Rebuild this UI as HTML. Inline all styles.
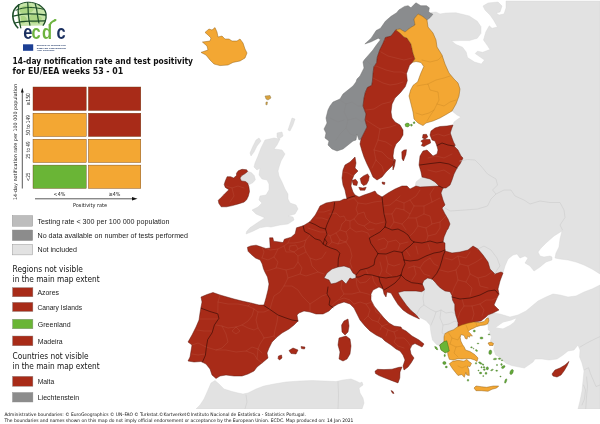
<!DOCTYPE html>
<html lang="en"><head><meta charset="utf-8"><title>14-day notification rate and test positivity for EU/EEA weeks 53 - 01</title>
<style>
html,body{margin:0;padding:0;background:#fff;}
body{width:600px;height:424px;overflow:hidden;}
svg{display:block;}
.t{font-family:"DejaVu Sans Condensed","DejaVu Sans","Liberation Sans",sans-serif;}
.a{font-family:"Liberation Sans",sans-serif;}
</style></head><body>
<svg width="600" height="424" viewBox="0 0 600 424">
<rect width="600" height="424" fill="#fff"/>
<g id="map" stroke-linejoin="round">
<polygon points="427,20 430,17.7 432.9,14.2 431,12.5 436,12 440,14 446,13 456,12.8 469.3,16 477.3,21.3 481,26.7 481,33.3 477.3,38.2 469.3,40.6 458.7,40.6 451.5,41 456,44.5 462.5,47.2 466.2,52 467.5,57.5 474.5,62 481.3,64 484.5,60 480.5,57.3 475.2,53.5 477.5,51.2 482.7,52.3 490,49.5 487.2,45.3 483.5,40 485.8,32 489.3,25.8 492,28.3 497.5,27 493.5,20 490,15 485,10 483,6 488,3 498,2 502,6 500,12 496,13 499,15 504,14 506,8 506,1 600,1 600,274 592,269 584,265 576,262 568,260 560,259 555,258 556,253 559,247 560,239 562,231 554,236 546,243 541,248 538,252 540,256 544,257 550,256 552,257 552,260 546,262 540,267 534,271 530,266 525,263 528,258 525,256 520,258 517,254 513,255 508,259 505,266 503,273 497,282 470,265 440,255 436,190 447,150 448,128 453,125 454,122 458,119 461,117 457,115 452,111 450,100 452,89 445,73 432,47 424,27" fill="#e2e2e2" stroke="#d4d4d4" stroke-width="0.4"/>
<polygon points="600,285 592,289 584,292 576,296 568,297 560,295 553,294 546,297 538,301 532,306 526,311 518,315 510,317 500,314 493,313 488,316 486,320 488,325 488.3,330 490.5,331.5 488.8,333 491.5,336.8 490.4,341.1 494.7,344.3 493.6,349.6 495.7,354.9 498.5,356.5 501,359.1 506.3,363.4 511.6,365.5 518,366.8 524.4,368 530.8,363.6 533,362 535,359 542,359 549,360 557,359 563,355 568,351 574,350 578,345 580,350 579.6,357 582,363 584,371 583,381 582,391 580,401 578,409 600,409" fill="#e2e2e2" stroke="#d4d4d4" stroke-width="0.4"/>
<polygon points="496,327.5 503,322.5 511,320.5 516,318.5 514,322 510,325 503,328.5" fill="#ffffff"/>
<polygon points="196,409 200,405 204,399 208,390 211,383 215,380.5 219,384 224,389 232,391.5 238,393 243,394 248,393 256,389 264,386 274,384 286,382 300,381 312,380.6 324,381 336,381.6 343,380 351,379 356,381 360,383 362,382 363,385 359,388 360,393 363,398 364,403 362,409" fill="#e2e2e2" stroke="#d4d4d4" stroke-width="0.4"/>
<polygon points="396,290 425,288 422,282 428,276 434,278 452,290 458,305 460,320 460,328 450,333 446,337 445,343 441,346 436.5,344.5 432.5,340 431,333 430,325 426,320.5 420,317.5 414,314 400,296" fill="#e2e2e2" stroke="#d4d4d4" stroke-width="0.4"/>
<polygon points="416,182 422,177 431,178 436,181 440,187 430,188 420,188.5 415,187" fill="#e2e2e2" stroke="#d4d4d4" stroke-width="0.4"/>
<polygon points="265,140 274,138 280,139 277,145 274,149 282,150 285,154 281,161 279,167 278,171 279,176 282,182 285,189 288,194 288,199 290,203 296,205 298,209 295,214 288,216 293,217 294,220 288,224 280,225 271,227 267.2,226.5 259.8,227.8 252.3,231.5 246.1,234 246.6,231.5 249.9,227.8 257.3,222.8 264.7,217.9 263,217 256,214 252,210 258,207 262,203 259,200 260,196 266,195 269,190 269,184 267,180 262,179 259,175 260,168 257,170 254,167 255,163 258,156 261,148" fill="#e2e2e2" stroke="#d4d4d4" stroke-width="0.4"/>
<polygon points="247.7,171.4 251.3,172.6 254.2,175.6 255.4,179.7 253,182.6 249.5,184.4 247.7,183.2 245.4,181.5 241.3,180.9 240,178 241.8,175.6 244.8,173.8" fill="#e2e2e2" stroke="#d4d4d4" stroke-width="0.4"/>
<polygon points="259,138 261,141 257,146 254,152 251,156 250,153 253,146 256,140" fill="#e2e2e2" stroke="#d4d4d4" stroke-width="0.4"/>
<polygon points="277,133 282,132 283,136 279,139 277,137" fill="#e2e2e2" stroke="#d4d4d4" stroke-width="0.4"/>
<polygon points="292,118 295,119 293,125 290,131 288,130 290,124" fill="#e2e2e2" stroke="#d4d4d4" stroke-width="0.4"/>
<polygon points="205,32.4 209,29 212,30 215,27.6 217,32 218,37 222,36 225,39 229,39 232,41 237,41 240,39 243,43 245,49 247,53 245,58 240,61 233,62.4 228,65 220,65.6 214,64 210,60 206,55 201,52.4 205,51 208,50 207,46 202.4,42 206,41.6 210,41 211,38 208,35" fill="#f3a733" stroke="#8a5a10" stroke-width="0.45"/>
<polygon points="265,96 270,95.5 271,98 268,100 266,99" fill="#d9a23c" stroke="#8a7a50" stroke-width="0.45"/>
<polygon points="266,102 267.5,102 267,105 265.8,104.5" fill="#d9a23c" stroke="#8a7a50" stroke-width="0.45"/>
<polygon points="238.3,170.8 242,169.3 246.6,169.7 247.7,171.4 244.8,173.8 241.8,175.6 240,178 241.3,180.9 245.4,181.5 247.7,183.2 248.9,186.8 249.5,191.5 248.3,196.2 246.6,199.7 244.2,202.1 238.3,203.9 232.4,205.6 226.5,206.8 221.2,206.8 218.8,203.3 218.3,200.3 221.2,197.4 223.6,195 226.5,192.1 228.9,189.7 225.3,187.4 224.2,184.4 225.3,180.9 227.1,176.7 230.6,176.7 233.6,177.9 236.5,175.6 236.5,173.2" fill="#a82b18" stroke="#5a1208" stroke-width="0.45"/>
<polygon points="325,138 329,141 328,145 332,149 337,151 343,149 348,145 353,141 356,140 357,134 359,140 361,139 364,133 367,127 365,120 366,114 363,106 364,98 365.3,92.4 367.4,87.5 371.7,85.3 372.4,81.1 373.1,72.6 373.8,66.9 376.6,62.7 377.3,57 379.8,49.8 383,43.3 385.4,37.5 391,36.1 395.3,30.5 396,29.5 400,29 405,32 410,28 415,25 414,19 418,14 422,16 427,20 430,17.7 432.9,14.2 428.6,12 429.3,7.8 426.5,5.7 420.8,5.7 415.9,2.8 410.9,7.8 408.1,5.7 404.5,6.4 398.9,9.9 396.7,12.7 391.1,16.3 385.4,21.2 380.5,28.3 376.2,30.5 371.2,38.2 364.9,43.9 371.2,41.8 378.3,38.2 380.5,39.7 376.2,45.3 372.7,50.3 368.4,55.2 364.2,60 363,62 364,68 360,76 357,79 356,82 353,86 348,90 343,94 340,99 333,102 330,106 328,110 326,118 327,123 324,129 326,133" fill="#8a8c8e" stroke="#6a6a6a" stroke-width="0.45"/>
<polygon points="361,139 364,133 367,127 365,120 366,114 363,106 364,98 365.3,92.4 367.4,87.5 371.7,85.3 372.4,81.1 373.1,72.6 373.8,66.9 376.6,62.7 377.3,57 379.8,49.8 383,43.3 385.4,37.5 391,36.1 395.3,30.5 396,29.5 400,33 404,37 407,38 411,44 413,53 415,59 412.5,62.3 409.5,65.3 406.5,73.6 407.3,80.7 405.3,86.6 400.6,92.5 395,98 392,104 391,112 392,118 395,122 400,125 403,130 403,135 400,140 396,144 394,149 393,156 394,162 393,165 390,168 386,172 382,177 377,180 373,177 370,170 367,164 364,157 362,151 360,144" fill="#a82b18" stroke="#5a1208" stroke-width="0.45"/>
<polygon points="401.8,151.7 404,150 406.5,149.7 405.9,154.4 403.4,161 402,158.4" fill="#a82b18" stroke="#5a1208" stroke-width="0.45"/>
<polygon points="394.5,159 395.5,160 394.5,166 393,170 392.8,166" fill="#a82b18" stroke="#5a1208" stroke-width="0.45"/>
<polygon points="396,30 400,29 405,32 410,28 415,25 414,19 418,14 422,16 427,20 428,27 433,33 436,40 437,47 442,55 445,64 449,73 454,79 458,83 460,89 459,96 456,104 452,111 447,114 440,118 433,121 426,123 423,125.6 418,123 414,119 413,112 411,104 409,96 410.6,90 413,85.4 417.7,81.8 420.7,73.6 423.8,66.5 421,62.5 416,61.5 412.5,62.3 415,59 413,53 411,44 407,38 404,37 400,33" fill="#f3a733" stroke="#8a5a10" stroke-width="0.45"/>
<polygon points="405,124.3 407,123 409,123.6 409.6,125.5 408,127 405.6,126.4" fill="#6ab536" stroke="#3a6a1a" stroke-width="0.45"/>
<polygon points="410.5,124.6 412,124.2 412.3,125.6 411,126.2" fill="#6ab536" stroke="#3a6a1a" stroke-width="0.45"/>
<polygon points="413.2,122.2 414.6,121.8 415,123.2 413.6,123.6" fill="#6ab536" stroke="#3a6a1a" stroke-width="0.45"/>
<polygon points="352,180.6 355.5,179.3 357.7,182 356.8,185.5 353.4,184.9" fill="#a82b18" stroke="#5a1208" stroke-width="0.45"/>
<polygon points="360.2,178.6 363.5,175.9 367.6,173.9 369.2,176.6 368.5,180.6 366.5,184.3 363.5,185.6 361.3,183.3" fill="#a82b18" stroke="#5a1208" stroke-width="0.45"/>
<polygon points="358.8,187.3 362.8,188 366.2,187.3 364.9,190.2 360.2,190.2" fill="#a82b18" stroke="#5a1208" stroke-width="0.45"/>
<polygon points="382,182 385,182.5 384.5,184.5 382.5,184" fill="#a82b18" stroke="#5a1208" stroke-width="0.45"/>
<polygon points="423,134.5 426.5,134.3 427.8,137 425,139 422.5,138" fill="#a82b18" stroke="#5a1208" stroke-width="0.45"/>
<polygon points="420.8,141 424,139.2 430,139.5 430.6,143 427,144.8 424,146.6 421.3,145.6 422.8,143" fill="#a82b18" stroke="#5a1208" stroke-width="0.45"/>
<polygon points="453,125 447,126 440,126.5 435,128 431,131 430,135 432,140 435,141 437,146 438,150 437,154 433,156 430,153 427,150 423,151 420,156 419,165 421,172 422,177 430,179 435,182 439,186 430,186.5 420,187 416,186 410,189 407,186 402,186 395,189 388,193 382,197 377,194 375,191 370,193 364,195 359,197 355,195 353,192 351,186 352,180 354,175 358,171 355,168 356,163 355,157 350,162 345,165 343,170 342,178 343,185 345,190 346,195 347,199 344,199 340,201 334,201.5 326,203 320,206 318,210 315.3,215 309.9,221.7 303.2,225.8 296.5,227.8 295.1,233.8 291.1,237.2 284.4,239.2 283,242.6 279,241.9 273.6,241.2 272.9,237.8 269.6,237.8 270.2,247.9 265.5,248.6 260.2,246.6 256.1,245.2 250.8,245.9 247.4,247.3 248.1,251.3 251.4,254.6 255.5,258 260.2,260 262.2,264 263.5,268.8 264.9,272 267.5,277 269,284 268,290 266,298 264,305 259,305 251,303 242,301 234,299 227,297 220,295 213,292.5 207,294.5 201,297 202,302 201,307 200,313 199,320 196,327 192,335 188,342 192,345 191,351 190,357 188,361 194,362 201,361.5 206,364 210,369 212,375 216,378.5 220,376 226,375 234,376 242,376 248,374 254,371 257,367 262,363 268,358 267,353 269,348 272,342 277,337 282,333 289,329 294,325 298,321 297,315 299,313 304,311 310,312 316,314 323,314 329,311 333,307 338,304 344,302 350,304 354,308 357,314 360,320 365,326 370,331 376,335 382,338 385,341 391,345 396,349 400,351 403,355 405,360 403,366 404,370 408,367 411,363 414,358 411,354 410,349 412,345 415,343.5 418,345 422,347 424,344 419,340 412,336 406,331 402,329 401,327 394,326 389,323 384,318 379,312 374,306 371,300 371,294 373,290 379,287 383,289 384,294 386,297 387,292 391,293 394.5,299 398,304.5 403,310 408,313.5 414,316.5 419.5,319 416.3,315 411,310.5 406.5,305.3 402.7,300 399.6,295.5 398,292.5 404,291 410,291 416,291 421.5,291.7 424.6,290 423.8,287 422.3,284 423.8,280.4 427.6,278 432,279 435,282 437.4,285 440.4,288 445,291 450,291.7 452,295.5 452.5,300 454.8,304.6 454.8,310 455.5,314.4 457,319 458,323 458,328 466,325 474,322 481,321 486,317 488,315 493,313 499,310 494,305 497,298 499,294 498,289 500,281 503,273 501,272 495,274 490,269 488,262 483,255 478,249 473,246 468,250 460,252 452,253 445,251 445,250 445,243 443,242 444,237 447,230 448,229 450,224 448,219 445,214 442,208 445,205 443,200 441,193 443,188 446,188 450,185 452,180 454,174 457,168 460,164 463,158 461,156 458,150 454,146 455.3,145.4 453.5,142 452,138 450.3,133 451.5,129" fill="#a82b18" stroke="#5a1208" stroke-width="0.45"/>
<polygon points="324,278 327,273 332,269 338,267 344,266 350,268 353,273 356,275 356,278 352,279 350,278 346,284 342,280 336,283 331,284 329,280" fill="#e2e2e2" stroke="#5a1208" stroke-width="0.45"/>
<polygon points="348,319 349,326 348,332 345,335 342,332 341.6,325 344,321" fill="#a82b18" stroke="#5a1208" stroke-width="0.45"/>
<polygon points="339,338 346,336 350,339 351,346 350,354 347,359 343,361 339,359 340,352 338,345" fill="#a82b18" stroke="#5a1208" stroke-width="0.45"/>
<polygon points="375,371.2 377.5,369.3 384,369.6 392,369.2 399,367.3 402,367 400,372 399.8,378 398,382.9 392,380.7 385,378 379,375.6 375.5,373.5" fill="#a82b18" stroke="#5a1208" stroke-width="0.45"/>
<polygon points="289,350.5 293,348 298,350 296,354 291,353.5" fill="#a82b18" stroke="#5a1208" stroke-width="0.45"/>
<polygon points="301,346.5 305,347 304.5,349 301.5,348.6" fill="#a82b18" stroke="#5a1208" stroke-width="0.45"/>
<polygon points="278.5,356 281.5,355 282,358 279.5,360 278,358.5" fill="#a82b18" stroke="#5a1208" stroke-width="0.45"/>
<polygon points="391,390.5 393,391.5 394,393.5 392.5,393.2" fill="#a82b18" stroke="#5a1208" stroke-width="0.45"/>
<polygon points="552,374 555,370 560,368 565,365 569,361.4 567,366 564,371 561,375 557,377 553,376" fill="#a82b18" stroke="#5a1208" stroke-width="0.45"/>
<polygon points="440,345 444,342 444,337 444.7,333.8 448.8,331.4 453.6,329.7 457.7,326.7 461.8,325 467.7,323.2 473.6,322 479.5,322.6 484.2,321.4 486.5,318.5 488.3,317.9 488.9,320.8 487.7,323.8 484.8,325 480.6,325.5 476.5,326.7 473,328.5 470,329.7 468.3,331.4 470.6,333.8 472.4,336.1 470,335.6 469.5,337.3 467.7,336.1 467.1,339.1 465.3,338.5 464.2,335.6 461,334.5 460.2,337.5 460.8,341 462.5,344.5 464.5,347.5 465.5,350 470,351.5 474.7,354.5 478,358 477,361.5 474.7,360 470.7,358.7 466.7,358.5 462,359 458,358.7 453.3,360 449.3,359.3 448,355.3 447.3,350 445.3,352.6 441.2,349.7" fill="#f3a733" stroke="#8a5a10" stroke-width="0.45"/>
<polygon points="439.6,345 444,341.6 446.8,340.8 448.2,346 449.3,351 445.3,353 441,350" fill="#6ab536" stroke="#3a6a1a" stroke-width="0.45"/>
<polygon points="449.3,363.7 452.7,361.3 458,360.3 464,361.2 466.7,359.3 469,361.5 471.5,363.3 470,366.5 467.5,366.3 469,370 469.3,375.5 466.8,375 465.8,372.5 464.3,377.3 461.8,374.5 458,375.5 455.5,372.5 452.5,368.7" fill="#f3a733" stroke="#8a5a10" stroke-width="0.45"/>
<polygon points="474,388 476,386 481.3,386.7 486.7,387.3 493.3,386 498.7,386 496.7,388 492,389.3 488,391.3 481.3,390.7 476,390.7" fill="#f3a733" stroke="#8a5a10" stroke-width="0.45"/>
<polygon points="488,343 491,342 493.5,343.5 493,345.5 489.5,345.5" fill="#f3a733" stroke="#8a5a10" stroke-width="0.45"/>
<polygon points="434.7,346.5 436.5,347 437.8,349.5 437,350 435.3,348.3" fill="#6ab536" stroke="#3a6a1a" stroke-width="0.45"/>
<g fill="none" stroke="#bd5c47" stroke-width="0.3" stroke-linecap="round" stroke-linejoin="round">
<polyline points="220,295 218,302 217.8,313.8"/>
<polyline points="218,302 228,304 238,304 248,306 254,309"/>
<polyline points="254,309 258,312 264,312 270,309.5"/>
<polyline points="248,306 251,303"/>
<polyline points="254,309 252,316 248,321 242,325 236,327 228,328 222,326 216,325"/>
<polyline points="236,327 240,331 236,334 232,331 236,327"/>
<polyline points="222,326 226,334 228,342 222,348 216,350 206,347"/>
<polyline points="216,350 226,350 236,352 246,351 254,354 257,359 262,363"/>
<polyline points="246,351 252,347 258,349 262,353"/>
<polyline points="258,349 257,359"/>
<polyline points="258,312 256,320 258,328 262,334 264,338"/>
<polyline points="278,315 277,322 275,330 274,336 276,338"/>
<polyline points="264,338 270,337 274,336"/>
<polyline points="264,338 260,344 258,349"/>
<polyline points="242,325 248,328 254,330 258,328"/>
<polyline points="200,319 208,319 218,319"/>
<polyline points="197,330 204,331 212,331"/>
<polyline points="192,345 198,343 206,347"/>
<polyline points="192,354 198,355 205,354"/>
<polyline points="262,247 264,252 262,258"/>
<polyline points="264,247.5 270,250 278,249 284,246 288,243 290,238.5"/>
<polyline points="288,243 294,243 300,242 306,240 310,235"/>
<polyline points="290,246 296,245 298,249 294,252 289,250 290,246"/>
<polyline points="262,258 268,260 274,257 278,249"/>
<polyline points="274,257 278,262 276,268 270,270 266,271"/>
<polyline points="284,246 286,252 294,252 298,256 298,262 294,268 286,270 278,268 276,268"/>
<polyline points="306,240 304,246 306,252 310,258 316,260 322,258 326,252"/>
<polyline points="298,249 304,246"/>
<polyline points="298,256 306,252"/>
<polyline points="310,258 312,266 318,272 324,274"/>
<polyline points="298,262 302,268 300,274 306,276 312,274 318,272"/>
<polyline points="286,270 288,278 284,286 280,292 274,296 272,302 270,309"/>
<polyline points="284,286 292,286 298,290 302,296 306,300 310,304 310,312"/>
<polyline points="300,274 294,276 288,278"/>
<polyline points="310,304 316,300 322,296 328,294"/>
<polyline points="342,281 341,288 344,294 340,298"/>
<polyline points="332,305 338,300 344,298 350,300 354,304"/>
<polyline points="356,278 357,286 360,292"/>
<polyline points="344,294 352,294 360,292 368,294 372,296"/>
<polyline points="356,278 360,283 366,282 370,278"/>
<polyline points="372,275 374,282 377,286"/>
<polyline points="354,304 360,302 366,304 372,302 374,306"/>
<polyline points="366,304 370,310 368,316 372,320"/>
<polyline points="374,306 376,312 381,315"/>
<polyline points="368,316 364,320"/>
<polyline points="372,320 378,322 382,326 380,330"/>
<polyline points="381,315 378,322"/>
<polyline points="382,326 388,324"/>
<polyline points="382,326 388,330 394,332 398,330"/>
<polyline points="388,330 386,336"/>
<polyline points="394,332 396,338 394,342 398,346"/>
<polyline points="396,338 404,338 408,342 411,347"/>
<polyline points="398,346 404,348"/>
<polyline points="348,200 354,198"/>
<polyline points="329,214 336,213 340,217 344,216 346,220 342,224"/>
<polyline points="354,198 358,203 356,209 358,214 354,219 350,221 346,220"/>
<polyline points="358,203 366,204 374,202 382,201"/>
<polyline points="358,214 364,212 366,218 370,222 376,224 384,222"/>
<polyline points="354,219 358,224 364,226 370,222"/>
<polyline points="350,221 350,228 356,232 362,231 368,233 370,237"/>
<polyline points="364,226 368,230 374,229"/>
<polyline points="342,224 340,230 336,233 330,236 327,234"/>
<polyline points="340,230 346,232 350,228"/>
<polyline points="336,233 340,240 346,242 348,238 346,232"/>
<polyline points="330,236 332,242 328,246"/>
<polyline points="332,242 338,244 340,240"/>
<polyline points="346,242 350,248 352,256 350,262 352,268"/>
<polyline points="338,244 346,242"/>
<polyline points="383,206 390,205 396,200 400,196"/>
<polyline points="396,200 404,203 410,200 416,196 420,190"/>
<polyline points="410,200 414,206 424,206 432,202 440,198"/>
<polyline points="432,202 430,194 434,188"/>
<polyline points="384,214 392,214 396,208 404,210 404,203"/>
<polyline points="404,210 410,214 414,206"/>
<polyline points="392,214 394,222 390,228"/>
<polyline points="394,222 402,224 406,230"/>
<polyline points="402,224 408,218 410,214"/>
<polyline points="408,218 416,218 424,214 424,206"/>
<polyline points="416,218 418,226 414,232 410,236"/>
<polyline points="418,226 426,228 432,224 430,216 424,214"/>
<polyline points="432,224 440,222 446,216"/>
<polyline points="426,228 428,236 426,242"/>
<polyline points="428,236 436,234 440,228 440,222"/>
<polyline points="378,240 384,238 388,242 386,248 380,250"/>
<polyline points="388,242 396,240 400,244 398,250"/>
<polyline points="400,244 408,242"/>
<polyline points="366,270 368,274"/>
<polyline points="380,262 382,270 379,277"/>
<polyline points="386,256 388,264 394,266 400,264"/>
<polyline points="388,264 386,272 392,276"/>
<polyline points="408,268 414,266 420,268 424,262 430,258"/>
<polyline points="414,266 416,274 412,280"/>
<polyline points="420,268 424,274 430,276"/>
<polyline points="430,258 434,264 438,266"/>
<polyline points="445,258 452,260 458,256 466,258 470,252"/>
<polyline points="458,256 460,264 456,270 448,272 440,270"/>
<polyline points="460,264 468,266 476,262 482,258"/>
<polyline points="468,266 470,274 478,278 486,276 492,272"/>
<polyline points="456,270 458,280 454,288 452,294"/>
<polyline points="458,280 466,282 472,288 470,296"/>
<polyline points="470,274 466,282"/>
<polyline points="478,278 480,286 488,288"/>
<polyline points="462,299 464,306 460,312 458,318"/>
<polyline points="464,306 472,306 480,304 486,300 492,300 497,298"/>
<polyline points="472,306 474,314 472,320"/>
<polyline points="480,304 484,310 482,316"/>
<polyline points="318,212 324,212 330,210"/>
<polyline points="316,218 322,218 328,220"/>
<polyline points="308,228 314,230 320,232 326,232"/>
<polyline points="343,172 348,173 353,176"/>
<polyline points="226,186 232,188 238,186 244,188"/>
<polyline points="232,188 234,196 230,202"/>
<polyline points="373,78 383,83 390,85 397,84 403,82"/>
<polyline points="366,110 374,109 382,104 390,102 395,98"/>
<polyline points="380,129 390,127 396,125"/>
<polyline points="380,129 378,140 374,150 376,160"/>
<polyline points="366,120 372,124 380,129"/>
<polyline points="378,140 386,142 392,146"/>
<polyline points="374,150 382,152 388,158 392,160"/>
<polyline points="376,160 372,168"/>
<polyline points="376,160 382,166 384,172"/>
<polyline points="381,52 388,56 396,58 404,60 412,58"/>
<polyline points="376,66 386,70 394,72 402,72 406,74"/>
<polyline points="432,136 438,134 444,136 450,134"/>
<polyline points="428,158 436,156 444,158 452,154"/>
<polyline points="428,170 436,172 444,170 450,174"/>
<polyline points="406,250 410,256"/>
<polyline points="416,246 418,254"/>
<polyline points="428,244 430,250"/>
</g>
<g fill="none" stroke="#b97a1e" stroke-width="0.3" stroke-linecap="round" stroke-linejoin="round">
<polyline points="417,86 422,85 428,84 430,90 438,92 439,100 437,104 434,110 430,116 427,121"/>
<polyline points="416,113 422,115 429,113 434,110"/>
<polyline points="437,104 444,106 450,102 456,100"/>
<polyline points="428,84 436,80 444,78 450,76"/>
<polyline points="422,60 430,62 438,60 442,56"/>
<polyline points="448,332 452,338 450,344"/>
<polyline points="452,338 458,340 460,336"/>
<polyline points="450,344 456,347 462,346"/>
<polyline points="456,347 454,353 458,357"/>
<polyline points="466,325 468,330"/>
<polyline points="476,323 477,326"/>
<polyline points="458,366 462,368 466,366"/>
</g>
<g fill="none" stroke="#848484" stroke-width="0.3" stroke-linecap="round" stroke-linejoin="round">
<polyline points="340,100 346,104 352,102 358,106 363,106"/>
<polyline points="346,104 344,112 348,120 346,128 350,134 356,136"/>
<polyline points="348,120 356,118 362,122 365,120"/>
<polyline points="330,118 338,122 344,120"/>
<polyline points="336,140 340,134 346,128"/>
<polyline points="375,66 370,64 366,60"/>
<polyline points="385,40 380,38 377,34"/>
</g>
<g fill="none" stroke="#3f0d06" stroke-width="0.7" stroke-linecap="round">
<polyline points="201.3,308.3 209.9,311.5 217.8,313.8 218.9,318.3 214.4,325 212.1,332.8 207.7,339.6 206.5,346.3 205.4,355.3 202.6,361.8"/>
<polyline points="264,305.6 270,309.5 278,315 286,318 292,320 298,321"/>
<polyline points="328,287 327,294 330,299 329,305 333,307.5"/>
<polyline points="303.2,225.8 304.4,231.3 309.6,234.3 315,238.8 320.2,240.3 323.2,244"/>
<polyline points="323.2,244 324.7,238.8 327,242.6 325.5,245.6 323.2,244"/>
<polyline points="325.5,245.6 330.8,248 336.8,250 339.8,253.2 338.3,259 338,266.5"/>
<polyline points="309.5,222.3 315,224.5 320.2,227.5 325.5,229"/>
<polyline points="334.6,202.6 333.8,208.6 331.5,214.6 329.3,219.2 327,224.5 325.5,229"/>
<polyline points="325.5,229 327,234.3 324.7,238.8"/>
<polyline points="347,198.5 351,197 355,196"/>
<polyline points="382,197 383,206 384,214 386,222 385,227"/>
<polyline points="385,227 380,232 374.6,235 369.3,238 370.8,243.3 374.6,248.6 378,253.6"/>
<polyline points="378,253.6 375,259 374,265 368,268 360,270 356,275"/>
<polyline points="385,227 392,230 398,229 404,232 408,235 411,240 414,242"/>
<polyline points="378,253.6 386,254 394,251 402,252.4"/>
<polyline points="414,242 410,246 406,249 402,252.4"/>
<polyline points="414,242 422,243 430,241 437,243 443,242"/>
<polyline points="402,252.4 404,260"/>
<polyline points="404,260 410,261 418,260 426,256 434,253 440,252 445,250"/>
<polyline points="404,260 405,263.8 402.7,269 401,275"/>
<polyline points="379,277 386,278 389,277.4 396.6,276.6 401,275"/>
<polyline points="356,277 359,277 365,274.4 372,275 379,277"/>
<polyline points="379,277 380,282 382,286 383,289"/>
<polyline points="384,290 389,287 395,283 399.6,278 401,275"/>
<polyline points="401,275 405.7,279.6 411.7,282.7 417.8,283.4 422.3,284.2"/>
<polyline points="432,279 436.6,273.6 439.7,267.6 442,260 443,256 445,251"/>
<polyline points="452,297 460,299 470,298 480,295 488,291 495,290 498.5,294"/>
<polyline points="437,145.5 442,143 448,145 454,146"/>
<polyline points="420,165 430,163.6 440,162.4 449,164 457,168"/>
<polyline points="439,186 443,188"/>
</g>
<g fill="none" stroke="#cacaca" stroke-width="0.55" stroke-linecap="round">
<polyline points="460,161 467.5,159.5 475,160 481,166 487.5,174 496,179 497.5,185 492.5,190 496,194 491,199 487.5,206 477.5,209 465,210 450,211 445,208"/>
<polyline points="496,194 504,190 511,190 515,196 524,200 530,204 540,201 550,202.5 560,202.5 564,210 565,217.5 560,225 562.5,230"/>
<polyline points="478,249 484,246 491,250 497,258 500,266 497,270 495,274"/>
<polyline points="246,395 247,402 245,409"/>
<polyline points="338,382 338.5,395 338,409"/>
<polyline points="580,347 586.6,343.2 594,339.4 600,336.6"/>
<polyline points="584.7,369.6 588.5,367.7 590.4,373.4 596,386.6 600,385"/>
<polyline points="586.6,377 587.5,386.6 586.6,396 585.7,409"/>
<polyline points="583.5,385 585.5,390 584.5,399 582,405"/>
<polyline points="416.3,315 420,308 424,305 423,298 424.6,290"/>
<polyline points="424,305 430,309 436,312 441,310 446,313 452,312 455,314"/>
<polyline points="436,312 434,318 431,325"/>
<polyline points="441,310 440,318 443,325 442,333 445,335"/>
<polyline points="443,325 449,324 455,321 458,323"/>
</g>
<g fill="#63a83a" stroke="#3a6a1a" stroke-width="0.3">
<ellipse cx="444.4" cy="363" rx="1.7" ry="1.5" transform="rotate(20 444.4 363)"/>
<ellipse cx="446.3" cy="367" rx="1.1" ry="0.9" transform="rotate(0 446.3 367)"/>
<ellipse cx="444.7" cy="355.5" rx="0.7" ry="1.2" transform="rotate(0 444.7 355.5)"/>
<ellipse cx="468" cy="380.3" rx="0.8" ry="1" transform="rotate(0 468 380.3)"/>
<ellipse cx="471.5" cy="347.3" rx="0.9" ry="0.6" transform="rotate(0 471.5 347.3)"/>
<ellipse cx="476.5" cy="350.5" rx="1.2" ry="0.8" transform="rotate(40 476.5 350.5)"/>
<ellipse cx="473.5" cy="348.6" rx="0.6" ry="0.4" transform="rotate(0 473.5 348.6)"/>
<ellipse cx="480.2" cy="363" rx="1.8" ry="0.8" transform="rotate(30 480.2 363)"/>
<ellipse cx="483" cy="364.6" rx="1" ry="0.6" transform="rotate(30 483 364.6)"/>
<ellipse cx="476" cy="363.3" rx="0.7" ry="0.9" transform="rotate(0 476 363.3)"/>
<ellipse cx="484" cy="367.3" rx="1.0" ry="0.7" transform="rotate(0 484 367.3)"/>
<ellipse cx="481.5" cy="367.3" rx="0.7" ry="0.7" transform="rotate(0 481.5 367.3)"/>
<ellipse cx="487.3" cy="368.3" rx="1.2" ry="1.6" transform="rotate(0 487.3 368.3)"/>
<ellipse cx="484.3" cy="369.6" rx="1.0" ry="0.9" transform="rotate(0 484.3 369.6)"/>
<ellipse cx="480.6" cy="373" rx="1.3" ry="0.9" transform="rotate(0 480.6 373)"/>
<ellipse cx="486" cy="373.3" rx="1" ry="1.1" transform="rotate(0 486 373.3)"/>
<ellipse cx="483.3" cy="376" rx="0.7" ry="0.5" transform="rotate(0 483.3 376)"/>
<ellipse cx="492" cy="370" rx="1.4" ry="0.6" transform="rotate(-25 492 370)"/>
<ellipse cx="495" cy="359" rx="1.7" ry="0.8" transform="rotate(-10 495 359)"/>
<ellipse cx="499.5" cy="358.7" rx="1.3" ry="0.7" transform="rotate(0 499.5 358.7)"/>
<ellipse cx="502" cy="360.3" rx="0.7" ry="0.6" transform="rotate(0 502 360.3)"/>
<ellipse cx="478.5" cy="370.5" rx="0.6" ry="0.6" transform="rotate(0 478.5 370.5)"/>
<ellipse cx="503.3" cy="367" rx="2" ry="1.2" transform="rotate(-35 503.3 367)"/>
<ellipse cx="501.5" cy="364.5" rx="0.8" ry="1" transform="rotate(0 501.5 364.5)"/>
<ellipse cx="496.7" cy="370.7" rx="1" ry="0.6" transform="rotate(0 496.7 370.7)"/>
<ellipse cx="511.6" cy="372" rx="1.5" ry="2.7" transform="rotate(25 511.6 372)"/>
<ellipse cx="505.7" cy="381" rx="0.9" ry="2.3" transform="rotate(20 505.7 381)"/>
<ellipse cx="490.3" cy="352.3" rx="1.5" ry="2.3" transform="rotate(10 490.3 352.3)"/>
<ellipse cx="474.3" cy="331" rx="1.1" ry="1" transform="rotate(0 474.3 331)"/>
<ellipse cx="481.5" cy="338" rx="1.6" ry="1.1" transform="rotate(0 481.5 338)"/>
<ellipse cx="478" cy="343.5" rx="0.8" ry="0.6" transform="rotate(0 478 343.5)"/>
<ellipse cx="489" cy="334.5" rx="0.8" ry="0.6" transform="rotate(0 489 334.5)"/>
<ellipse cx="500.5" cy="376.5" rx="0.7" ry="0.5" transform="rotate(0 500.5 376.5)"/>
<ellipse cx="497" cy="365" rx="0.6" ry="0.8" transform="rotate(0 497 365)"/>
</g>
</g>
<rect x="0" y="409" width="600" height="15" fill="#fff"/>
<g id="logo">
 <defs><clipPath id="dclip"><rect x="38" y="28.6" width="12" height="12"/></clipPath></defs>
 <path d="M18.7,5 C22,2.6 26,2 28.5,2.2 C33,2.4 36.5,3.4 39,5 C43,7.8 45.8,11 46.2,14.5 C46.5,18 45.5,22 43,25.5 L20,26 C17,21 16.5,11 18.7,5Z" fill="#c6e4a8"/>
 <path d="M20,8 C24,5 30,5 33,7 C35,9 33,12 29,13 C25,14 22,13 20,12Z M31,15 C35,14 40,15 42,18 C41,22 36,24 32,23 C29,21 29,17 31,15Z M21,16 C24,15 27,17 27,20 C26,23 23,24 21,23Z" fill="#acd684"/>
 <g fill="none" stroke="#1f4f2a" stroke-linecap="round">
  <path d="M18.7,4.8 C14.5,8 12.5,12 12.8,16.5 C13.2,21 15,25 17.8,27.8" stroke-width="1.6"/>
  <path d="M18.7,4.8 C22,2.8 25.5,2.2 28.3,2.2 C32.5,2.3 36,3.2 38.9,4.8" stroke-width="1"/>
  <path d="M38.9,4.8 C43,7.5 45.6,10.5 46,13.5 C46.4,17 45.8,20 45.2,21.5 C44.7,23 44,24.2 43.2,25.2" stroke-width="1.3"/>
  <path d="M13.3,16.2 C20,14.3 26,13.8 29.3,13.8 C35,13.8 41,14.2 45.6,15" stroke-width="1.3"/>
  <path d="M14.4,23 C20,21.8 26,21.3 29.3,21.2 C35,21 40,20.8 44.9,20.8" stroke-width="1.2"/>
  <path d="M16,10.2 C20,8.3 26,7.5 29.3,7.5 C34,7.5 39,8 43.2,9.2" stroke-width="1"/>
  <path d="M18.7,5.3 C18,9 18,13 18.7,16 C19.2,20 19.8,24 20.8,27.8" stroke-width="1.2"/>
  <path d="M27.7,2.6 C28,6 28.2,10 28.3,13.9 C28.6,18 29.2,22 29.9,25.2" stroke-width="1.2"/>
  <path d="M35.2,3.7 C36.3,7 37,10.5 37.3,13.9 C37.7,17 38.3,20 38.9,23" stroke-width="1.2"/>
 </g>
 <rect x="22.5" y="26.2" width="45" height="14" fill="#fff"/>
 <path d="M50,27 C49.6,24.8 50.4,23 52,22 C53,21.4 54,20.9 54.8,20.3" fill="none" stroke="#6db33f" stroke-width="1.9" stroke-linecap="round"/>
 <ellipse cx="55" cy="20.2" rx="1.6" ry="1.1" transform="rotate(-25 55 20.2)" fill="#6db33f"/>
 <text class="a" font-size="19.3" font-weight="bold" transform="translate(0,38.8) scale(0.85,1)" y="0"><tspan x="27.5" fill="#1a2f5f">e</tspan><tspan x="37.2" fill="#6db33f">c</tspan><tspan x="49.4" fill="#6db33f">d</tspan><tspan x="66.4" fill="#1a2f5f">c</tspan></text>
 <rect x="23" y="44.3" width="10.2" height="6.5" fill="#1c3f94"/>
 <g class="a" font-size="2.1" font-weight="bold" fill="#1b3566">
  <text x="36.8" y="46.3" textLength="29" lengthAdjust="spacingAndGlyphs">EUROPEAN CENTRE FOR</text>
  <text x="36.8" y="48.5" textLength="29" lengthAdjust="spacingAndGlyphs">DISEASE PREVENTION</text>
  <text x="36.8" y="50.7" textLength="18" lengthAdjust="spacingAndGlyphs">AND CONTROL</text>
 </g>
</g>
<g class="t" font-weight="bold" font-size="8.2" fill="#111">
 <text x="12.5" y="63.7" textLength="180.5" lengthAdjust="spacingAndGlyphs">14-day notification rate and test positivity</text>
 <text x="12.5" y="74.2" textLength="110.8" lengthAdjust="spacingAndGlyphs">for EU/EEA weeks 53 - 01</text>
</g>
<g id="matrix" stroke="#6b3a10" stroke-width="0.4">
 <rect x="33" y="87" width="53.2" height="23.5" fill="#a82b18"/>
 <rect x="88.4" y="87" width="52.4" height="23.5" fill="#a82b18"/>
 <rect x="33" y="113.2" width="53.2" height="23.3" fill="#f3a733"/>
 <rect x="88.4" y="113.2" width="52.4" height="23.3" fill="#a82b18"/>
 <rect x="33" y="139.2" width="53.2" height="23.3" fill="#f3a733"/>
 <rect x="88.4" y="139.2" width="52.4" height="23.3" fill="#f3a733"/>
 <rect x="33" y="165.1" width="53.2" height="23.3" fill="#6ab536"/>
 <rect x="88.4" y="165.1" width="52.4" height="23.3" fill="#f3a733"/>
</g>
<g stroke="#111" stroke-width="0.7" fill="#111">
 <line x1="22.3" y1="188.5" x2="22.3" y2="91.5"/>
 <polygon points="22.3,87.8 20.9,92.5 23.7,92.5" stroke="none"/>
 <line x1="35" y1="198.8" x2="133" y2="198.8"/>
 <polygon points="137.5,198.8 132,197 132,200.6" stroke="none"/>
</g>
<g class="t" fill="#222">
 <text font-size="4.8" transform="translate(17.4,200) rotate(-90)" textLength="116" lengthAdjust="spacingAndGlyphs">14-day notification rate per 100 000 population</text>
 <g font-size="5.6">
 <text transform="translate(30,181.3) rotate(-90)" textLength="8.8" lengthAdjust="spacingAndGlyphs">&lt;25</text>
 <text transform="translate(30,158.8) rotate(-90)" textLength="17.5" lengthAdjust="spacingAndGlyphs">25 to 49</text>
 <text transform="translate(30,135.5) rotate(-90)" textLength="20.5" lengthAdjust="spacingAndGlyphs">50 to 149</text>
 <text transform="translate(30,105.5) rotate(-90)" textLength="12.5" lengthAdjust="spacingAndGlyphs">≥150</text>
 </g>
 <g font-size="5.4">
 <text x="53.6" y="195.8" textLength="11.8" lengthAdjust="spacingAndGlyphs">&lt;4%</text>
 <text x="108.7" y="195.8" textLength="11.8" lengthAdjust="spacingAndGlyphs">≥4%</text>
 <text x="73" y="207.3" textLength="34" lengthAdjust="spacingAndGlyphs">Positivity rate</text>
 </g>
</g>
<g id="legendboxes" stroke="#8a8a8a" stroke-width="0.4">
 <rect x="12.3" y="215.6" width="20.4" height="10.6" fill="#bdbdbd"/>
 <rect x="12.3" y="230" width="20.4" height="10.6" fill="#8c8c8c"/>
 <rect x="12.3" y="244.3" width="20.4" height="10.6" fill="#e2e2e2"/>
 <rect x="12.5" y="287.6" width="20.4" height="9.2" fill="#a82b18"/>
 <rect x="12.5" y="302.3" width="20.4" height="9.2" fill="#a82b18"/>
 <rect x="12.5" y="319.2" width="20.4" height="9.6" fill="#6ab536"/>
 <rect x="12.5" y="336" width="20.4" height="9.8" fill="#a82b18"/>
 <rect x="12.5" y="376.3" width="20.4" height="10" fill="#a82b18"/>
 <rect x="12.5" y="392.5" width="20.4" height="9.5" fill="#8c8c8c"/>
</g>
<g class="a" font-size="7" fill="#222">
 <text x="37.5" y="223.5" textLength="132" lengthAdjust="spacingAndGlyphs">Testing rate &lt; 300 per 100 000 population</text>
 <text x="37.5" y="238" textLength="150.5" lengthAdjust="spacingAndGlyphs">No data available on number of tests performed</text>
 <text x="37.5" y="252.2" textLength="39.5" lengthAdjust="spacingAndGlyphs">Not included</text>
 <text x="37.4" y="295" textLength="21.6" lengthAdjust="spacingAndGlyphs">Azores</text>
 <text x="37.4" y="309.5" textLength="44.6" lengthAdjust="spacingAndGlyphs">Canary Islands</text>
 <text x="37.7" y="326.5" textLength="33" lengthAdjust="spacingAndGlyphs">Greenland</text>
 <text x="37.7" y="343.6" textLength="25" lengthAdjust="spacingAndGlyphs">Madeira</text>
 <text x="37.7" y="383.8" textLength="16.5" lengthAdjust="spacingAndGlyphs">Malta</text>
 <text x="37.7" y="399.8" textLength="41.5" lengthAdjust="spacingAndGlyphs">Liechtenstein</text>
</g>
<g class="t" font-size="8.9" fill="#111">
 <text x="12.6" y="272" textLength="70.3" lengthAdjust="spacingAndGlyphs">Regions not visible</text>
 <text x="12.6" y="282" textLength="87" lengthAdjust="spacingAndGlyphs">in the main map extent</text>
 <text x="12.6" y="358.8" textLength="76" lengthAdjust="spacingAndGlyphs">Countries not visible</text>
 <text x="12.6" y="368.8" textLength="87" lengthAdjust="spacingAndGlyphs">in the main map extent</text>
</g>
<g class="t" font-size="4.7" fill="#111">
 <text x="4.4" y="415.6" textLength="301.5" lengthAdjust="spacingAndGlyphs">Administrative boundaries: © EuroGeographics © UN–FAO © Turkstat.©Kartverket©Instituto Nacional de Estatística - Statistics Portugal.</text>
 <text x="4.4" y="421.6" textLength="349" lengthAdjust="spacingAndGlyphs">The boundaries and names shown on this map do not imply official endorsement or acceptance by the European Union. ECDC. Map produced on: 14 Jan 2021</text>
</g>

</svg></body></html>
